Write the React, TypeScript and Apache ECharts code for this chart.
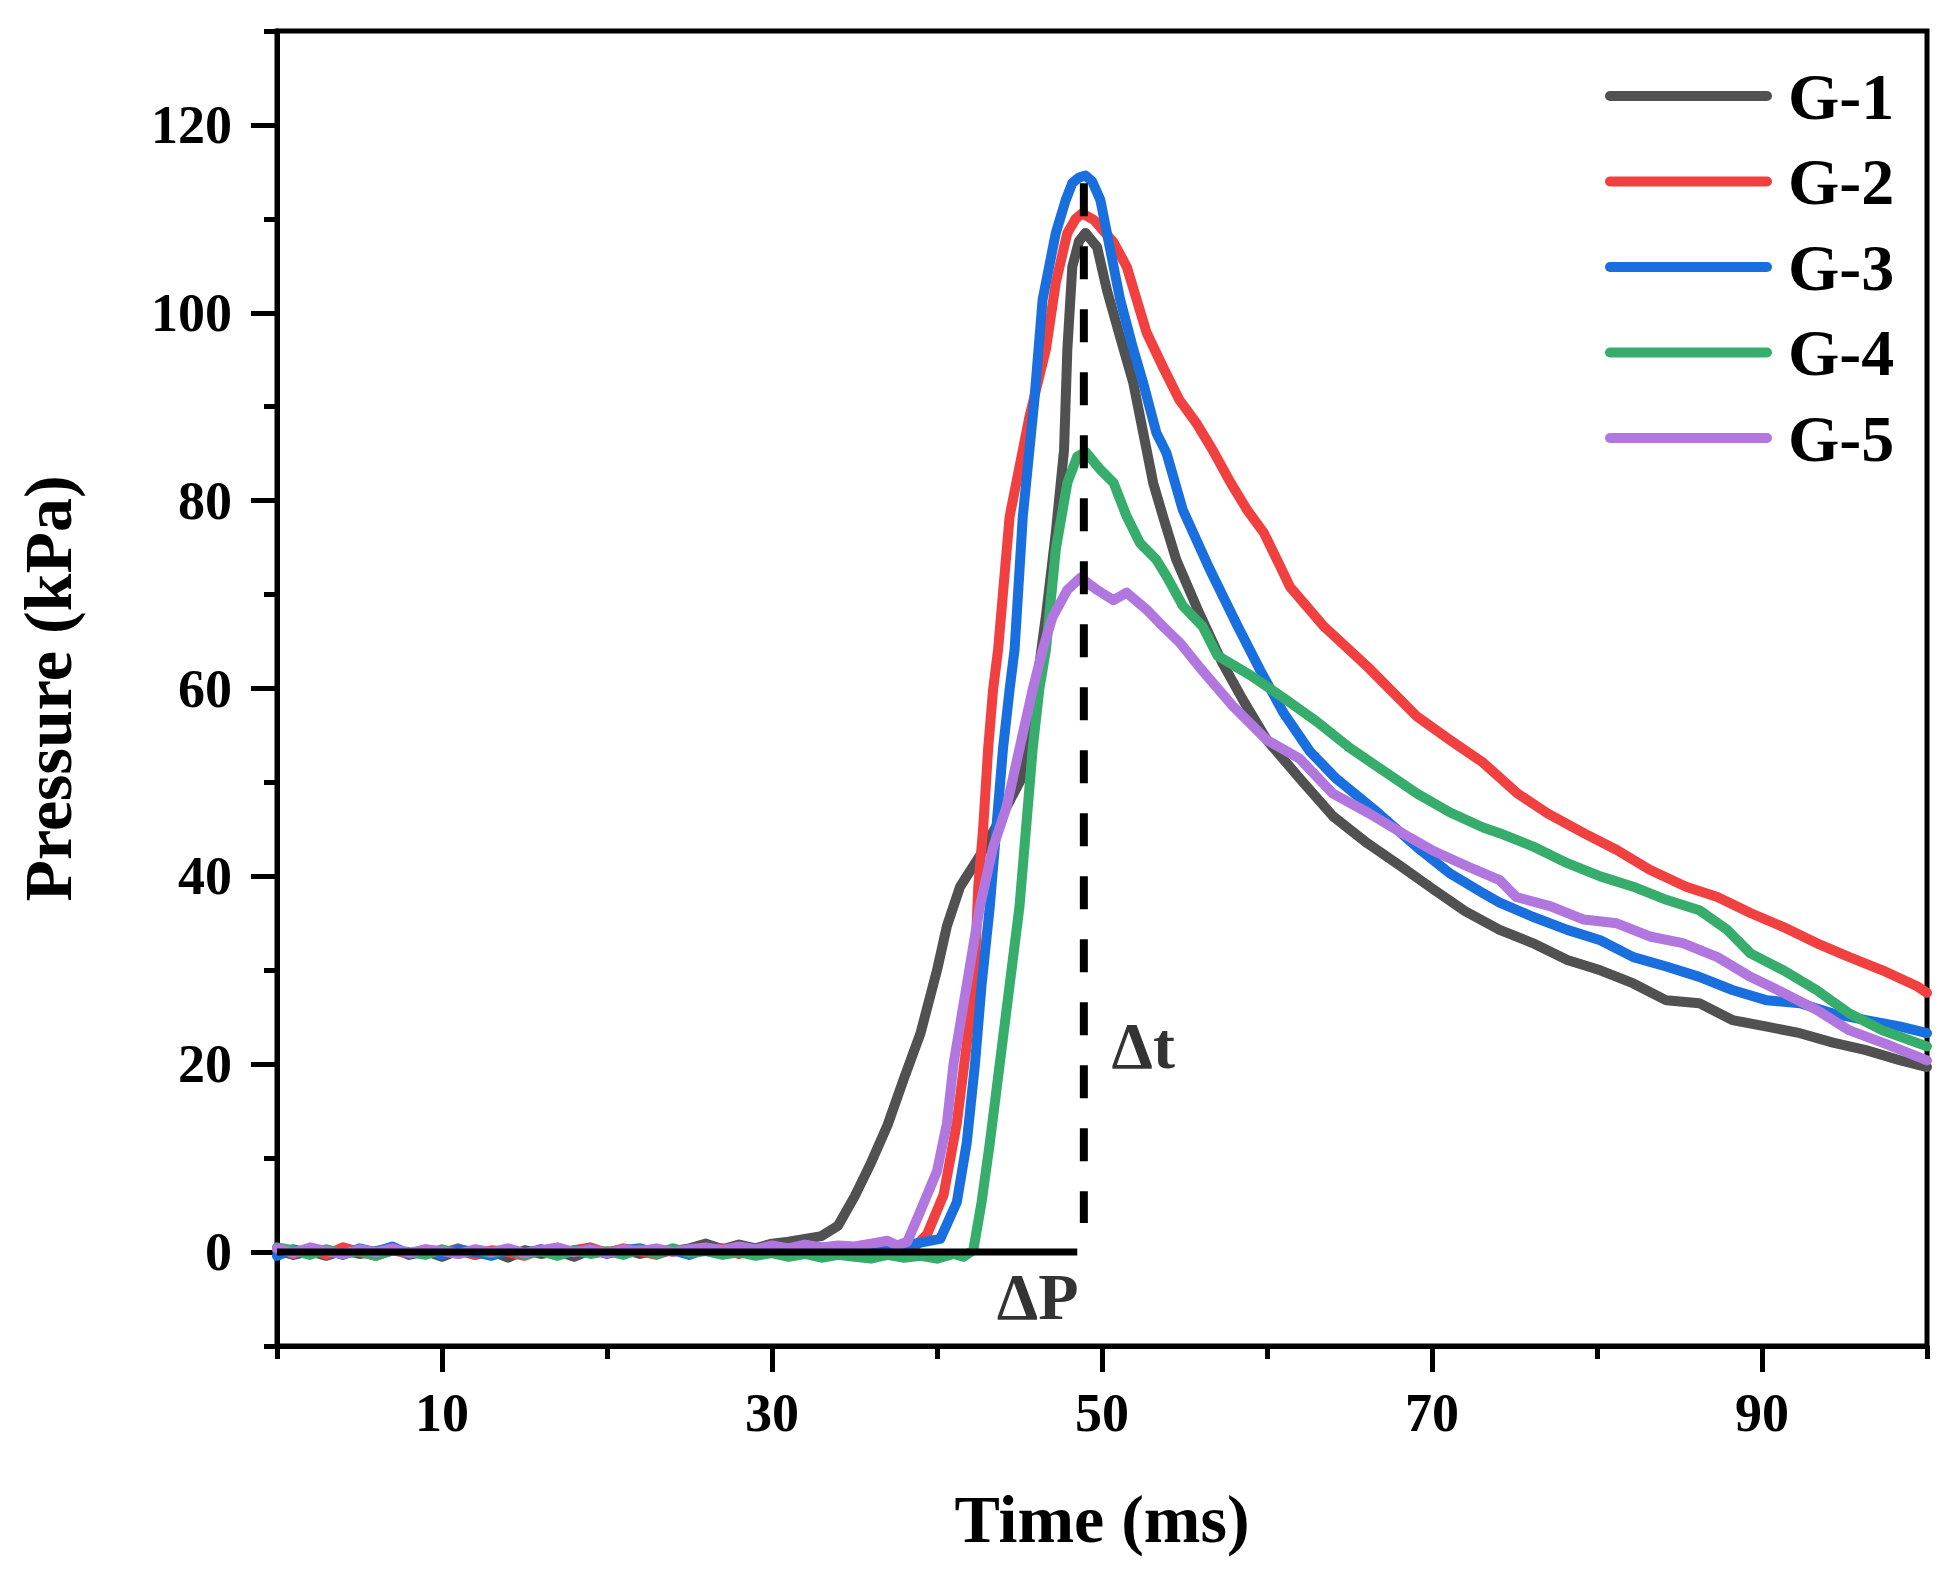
import React, { useEffect, useRef } from "react";
import * as echarts from "echarts";

const seriesNames = ["G-1", "G-2", "G-3", "G-4", "G-5"];
const seriesColors = ["#515151", "#F14040", "#1A6FDF", "#37AD6B", "#B177DE"];

// [time (ms), pressure (kPa)]
const g1 = [
  [0, 0.2], [1, -0.3], [2, 0.1], [3, -0.4], [4, 0.2], [5, -0.2], [6, 0.1], [7, 0.5], [8, -0.3], [9, 0.1],
  [10, -0.5], [11, 0.2], [12, -0.3], [13, 0.1], [14, -0.6], [15, 0.2], [16, -0.2], [17, 0.1], [18, -0.5], [19, 0.2],
  [20, 0.0], [21, 0.3], [22, -0.2], [23, 0.2], [24, 0.1], [25, 0.4], [26, 0.9], [27, 0.3], [28, 0.8], [29, 0.4],
  [30, 0.9], [31, 1.1], [32, 1.4], [33, 1.7], [34, 2.8], [35, 5.9], [36, 9.5], [37, 13.5], [38, 18.5], [39, 23.3],
  [40, 30.0], [40.6, 34.7], [41.4, 38.9], [42.6, 42.2], [43.8, 46.0], [45.2, 50.7], [46.0, 59.9], [46.6, 67.7],
  [47.2, 76.6], [47.7, 85.4], [47.9, 96.1], [48.2, 104.9], [48.6, 107.6], [49.0, 108.5], [49.7, 107.0], [50.3, 102.4],
  [51.1, 97.4], [51.9, 92.5], [52.5, 87.2], [53.1, 81.9], [53.7, 78.3], [54.5, 73.7], [55.9, 68.0], [57.3, 62.7],
  [58.6, 58.6], [60.0, 54.5], [62.0, 50.4], [64.0, 46.4], [66.1, 43.5], [68.1, 41.1], [70.1, 38.6], [72.0, 36.3],
  [74.1, 34.3], [76.1, 32.9], [78.2, 31.1], [80.2, 30.0], [82.2, 28.6], [84.2, 26.8], [86.2, 26.5], [88.2, 24.7],
  [90.3, 24.0], [92.3, 23.3], [94.3, 22.3], [96.3, 21.5], [98.4, 20.4], [100, 19.7],
];

const g2 = [
  [0, 0.3], [1, -0.2], [2, 0.4], [3, -0.3], [4, 0.5], [5, 0.0], [6, -0.4], [7, 0.2], [8, -0.2], [9, 0.3],
  [10, -0.1], [11, 0.4], [12, -0.3], [13, 0.2], [14, 0.0], [15, -0.4], [16, 0.3], [17, -0.2], [18, 0.2], [19, 0.5],
  [20, -0.1], [21, 0.4], [22, 0.1], [23, -0.3], [24, 0.3], [25, -0.1], [26, 0.2], [27, 0.4], [28, -0.2], [29, 0.3],
  [30, 0.1], [31, -0.3], [32, 0.2], [33, 0.4], [34, -0.1], [35, 0.3], [36, 0.2], [37, 0.5], [38, 0.3], [38.8, 0.8],
  [39.4, 1.9], [40.4, 6.1], [41.2, 13.7], [41.8, 22.1], [42.3, 30.5], [42.5, 38.9], [42.8, 45.2], [43.1, 53.6],
  [43.4, 59.9], [43.7, 64.1], [44.4, 78.3], [45.0, 83.6], [45.6, 88.9], [46.6, 96.1], [47.2, 103.2], [47.9, 108.5],
  [48.4, 110.0], [48.8, 110.6], [49.5, 109.9], [50.7, 107.5], [51.5, 104.9], [52.1, 101.4], [52.7, 97.9], [53.7, 94.2], [54.7, 90.7],
  [55.7, 88.3], [56.7, 85.4], [57.8, 81.9], [58.8, 79.0], [59.8, 76.6], [60.8, 73.0], [61.4, 70.8], [63.4, 66.7],
  [66.1, 62.3], [69.1, 57.0], [71.1, 54.5], [73.1, 52.1], [75.2, 48.8], [77.0, 46.7], [79.2, 44.6], [81.2, 42.8],
  [83.2, 40.7], [85.4, 38.9], [87.3, 37.8], [89.3, 36.1], [91.3, 34.6], [93.3, 32.9], [95.3, 31.4], [97.3, 30.0],
  [99.4, 28.3], [100, 27.6],
];

const g3 = [
  [0, -0.4], [1, 0.3], [2, -0.1], [3, 0.2], [4, -0.3], [5, 0.4], [6, 0.0], [7, 0.6], [8, -0.2], [9, 0.2],
  [10, -0.3], [11, 0.3], [12, 0.0], [13, -0.4], [14, 0.2], [15, -0.1], [16, 0.3], [17, -0.3], [18, 0.1], [19, 0.3],
  [20, -0.2], [21, 0.2], [22, 0.4], [23, -0.1], [24, 0.2], [25, -0.3], [26, 0.3], [27, 0.1], [28, 0.4], [29, 0.0],
  [30, 0.3], [31, -0.1], [32, 0.2], [33, 0.5], [34, 0.3], [35, 0.4], [36, 0.6], [37, 0.8], [38, 0.7], [39, 1.0],
  [40.2, 1.4], [41.2, 5.3], [41.8, 11.6], [42.3, 20.0], [42.7, 28.4], [43.2, 36.8], [43.6, 45.2], [44.0, 53.6],
  [44.4, 59.9], [44.7, 64.1], [45.2, 78.3], [45.9, 90.7], [46.4, 101.4], [47.2, 108.5], [47.8, 112.0], [48.2, 113.8],
  [48.6, 114.4], [49.0, 114.6], [49.4, 114.0], [49.9, 112.0], [50.5, 106.7], [51.1, 101.4], [51.9, 96.1], [52.5, 92.5],
  [53.3, 87.2], [53.9, 85.1], [54.9, 79.0],
  [56.5, 72.8], [58.2, 66.7], [59.6, 61.9], [61.0, 57.4], [62.6, 53.3], [64.2, 50.4], [66.7, 46.8], [69.1, 43.1],
  [71.1, 40.3], [73.1, 38.2], [74.1, 37.2], [76.1, 35.7], [78.2, 34.3], [80.2, 33.2], [82.2, 31.4], [84.2, 30.4],
  [86.2, 29.3], [88.2, 27.9], [90.3, 26.8], [92.3, 26.5], [94.3, 25.4], [96.3, 24.7], [98.4, 24.0], [100, 23.3],
];

const g4 = [
  [0, 0.5], [1, 0.2], [2, -0.3], [3, 0.3], [4, -0.2], [5, 0.1], [6, -0.4], [7, 0.2], [8, 0.0], [9, -0.3],
  [10, 0.3], [11, -0.2], [12, 0.2], [13, -0.1], [14, 0.3], [15, -0.3], [16, 0.1], [17, -0.4], [18, 0.2], [19, -0.2],
  [20, 0.1], [21, -0.3], [22, 0.3], [23, -0.2], [24, 0.4], [25, -0.1], [26, 0.1], [27, -0.3], [28, 0.0], [29, -0.4],
  [30, -0.1], [31, -0.5], [32, -0.2], [33, -0.6], [34, -0.3], [35, -0.5], [36, -0.7], [37, -0.3], [38, -0.6], [39, -0.4],
  [40, -0.7], [41, -0.2], [41.6, -0.5], [42.2, 0.2], [42.7, 5.3], [43.2, 11.6], [43.8, 20.0], [44.4, 28.4],
  [45.0, 36.8], [45.4, 45.2], [45.8, 53.6], [46.2, 59.9], [46.6, 64.1], [47.2, 74.8], [47.9, 81.9], [48.5, 84.7],
  [49.0, 85.2], [49.9, 83.3], [50.7, 81.9], [51.5, 78.3], [52.3, 75.5], [53.3, 73.7], [53.9, 72.0], [54.9, 68.8],
  [56.1, 66.6], [57.0, 63.5], [59.0, 61.4], [61.0, 59.0], [63.0, 56.5], [65.0, 53.7], [67.0, 51.3], [69.1, 48.8],
  [71.1, 46.8], [73.1, 45.2], [74.1, 44.6], [76.1, 43.2], [78.2, 41.4], [80.2, 40.0], [82.2, 38.9], [84.2, 37.5],
  [86.2, 36.4], [87.9, 34.3], [89.3, 31.8], [91.3, 30.0], [93.3, 27.9], [95.3, 25.4], [97.3, 23.6], [100, 21.9],
];

const g5 = [
  [0, 0.4], [1, -0.1], [2, 0.5], [3, 0.1], [4, -0.2], [5, 0.3], [6, 0.0], [7, 0.4], [8, -0.1], [9, 0.3],
  [10, 0.1], [11, -0.2], [12, 0.3], [13, 0.0], [14, 0.4], [15, -0.1], [16, 0.2], [17, 0.5], [18, 0.0], [19, 0.3],
  [20, -0.1], [21, 0.3], [22, 0.1], [23, 0.4], [24, 0.0], [25, 0.3], [26, 0.5], [27, 0.2], [28, 0.6], [29, 0.3],
  [30, 0.7], [31, 0.4], [32, 0.8], [33, 0.5], [34, 0.7], [35, 0.6], [36, 0.9], [37, 1.2], [37.6, 0.7], [38.2, 1.1],
  [39.0, 4.4], [40.0, 8.6], [40.6, 13.7], [41.0, 20.0], [41.4, 24.2], [42.0, 30.5], [42.6, 36.8], [43.4, 43.1],
  [44.2, 47.3], [45.0, 53.6], [45.8, 59.9], [46.4, 64.1], [47.0, 67.6], [47.9, 70.5], [48.7, 71.8], [49.7, 70.5],
  [50.7, 69.4], [51.5, 70.2], [52.7, 68.4], [53.7, 66.6], [54.7, 64.9], [55.9, 62.3], [57.9, 58.2], [60.0, 54.5],
  [62.0, 52.5], [64.0, 48.8], [66.1, 46.8], [68.1, 44.7], [70.1, 42.7], [72.1, 41.1], [74.1, 39.6], [75.1, 37.8],
  [77.2, 36.8], [79.2, 35.4], [81.2, 35.0], [83.2, 33.6], [85.2, 32.9], [87.3, 31.4], [89.3, 29.3], [91.3, 27.6],
  [93.3, 25.8], [95.3, 23.6], [97.3, 22.3], [100, 20.4],
];

const seriesData = [g1, g2, g3, g4, g5];

// annotation lines and labels
const deltaPLine = [[0, 0], [48.5, 0]];
const deltaTLine = [[48.9, 113.8], [48.9, 3.1]];
const annotations = [
  { name: "\u0394P", value: [46.1, -4.7] },
  { name: "\u0394t", value: [52.5, 22.0] },
];

const xMajorTicks = [10, 30, 50, 70, 90];
const xMinorTicks = [0, 20, 40, 60, 80, 100];
const yMajorTicks = [0, 20, 40, 60, 80, 100, 120];
const yMinorTicks = [-10, 10, 30, 50, 70, 90, 110, 130];

const FONT = "Liberation Serif";

export default function App() {
  const ref = useRef<HTMLDivElement>(null);

  useEffect(() => {
    document.body.style.margin = "0";
    if (!ref.current) return;
    const chart = echarts.init(ref.current, null, { renderer: "svg" });

    const labelStyle = {
      fontFamily: FONT,
      fontWeight: "bold" as const,
      fontSize: 54,
      color: "#000",
    };

    const lineSeries = seriesNames.map((name, i) => ({
      name,
      type: "line",
      xAxisIndex: 0,
      yAxisIndex: 0,
      data: seriesData[i],
      symbol: "none",
      showSymbol: false,
      lineStyle: { color: seriesColors[i], width: 10, join: "round", cap: "round" },
      itemStyle: { color: seriesColors[i] },
      z: 2 + i * 0.01,
    }));

    const option: any = {
      animation: false,
      backgroundColor: "#fff",
      grid: {
        left: 277,
        right: 24,
        top: 31,
        bottom: 223,
        show: true,
        borderColor: "#000",
        borderWidth: 5,
        backgroundColor: "transparent",
        containLabel: false,
        outerBoundsMode: "none",
      },
      legend: {
        data: seriesNames,
        orient: "vertical",
        left: 1600,
        top: 58,
        itemWidth: 167,
        itemHeight: 10,
        itemGap: 19.5,
        icon: "path://M5,0 L162,0 A5,5 0 0 1 162,10 L5,10 A5,5 0 0 1 5,0 Z",
        textStyle: {
          fontFamily: FONT,
          fontWeight: "bold",
          fontSize: 66,
          lineHeight: 66,
          color: "#000",
          padding: [0, 0, 0, 11],
        },
        selectedMode: false,
      },
      xAxis: [
        {
          type: "value",
          min: 0,
          max: 100,
          interval: 10,
          position: "bottom",
          name: "Time (ms)",
          nameLocation: "middle",
          nameGap: 139,
          nameTextStyle: { fontFamily: FONT, fontWeight: "bold", fontSize: 68, color: "#000" },
          axisLine: { show: true, onZero: false, lineStyle: { color: "#000", width: 5 } },
          axisTick: {
            show: true,
            inside: false,
            length: 26,
            customValues: xMajorTicks,
            lineStyle: { color: "#000", width: 5 },
          },
          axisLabel: { ...labelStyle, margin: 40, customValues: xMajorTicks },
          splitLine: { show: false },
        },
        {
          type: "value",
          min: 0,
          max: 100,
          interval: 10,
          position: "bottom",
          offset: 0,
          axisLine: { show: false, onZero: false },
          axisTick: {
            show: true,
            inside: false,
            length: 13,
            customValues: xMinorTicks,
            lineStyle: { color: "#000", width: 5 },
          },
          axisLabel: { show: false },
          splitLine: { show: false },
        },
      ],
      yAxis: [
        {
          type: "value",
          min: -10,
          max: 130,
          interval: 10,
          position: "left",
          name: "Pressure (kPa)",
          nameLocation: "middle",
          nameGap: 195,
          nameTextStyle: { fontFamily: FONT, fontWeight: "bold", fontSize: 68, color: "#000" },
          axisLine: { show: true, onZero: false, lineStyle: { color: "#000", width: 5 } },
          axisTick: {
            show: true,
            inside: false,
            length: 26,
            customValues: yMajorTicks,
            lineStyle: { color: "#000", width: 5 },
          },
          axisLabel: { ...labelStyle, margin: 45, customValues: yMajorTicks },
          splitLine: { show: false },
        },
        {
          type: "value",
          min: -10,
          max: 130,
          interval: 10,
          position: "left",
          offset: 0,
          axisLine: { show: false, onZero: false },
          axisTick: {
            show: true,
            inside: false,
            length: 13,
            customValues: yMinorTicks,
            lineStyle: { color: "#000", width: 5 },
          },
          axisLabel: { show: false },
          splitLine: { show: false },
        },
      ],
      series: [
        ...lineSeries,
        {
          name: "deltaP",
          type: "line",
          data: deltaPLine,
          symbol: "none",
          lineStyle: { color: "#000", width: 7, cap: "butt" },
          silent: true,
          z: 3,
        },
        {
          name: "deltaT",
          type: "line",
          data: deltaTLine,
          symbol: "none",
          lineStyle: { color: "#000", width: 8, type: [33, 30], cap: "butt" },
          silent: true,
          z: 3,
        },
        {
          name: "annot",
          type: "scatter",
          data: annotations,
          symbolSize: 0,
          silent: true,
          z: 4,
          label: {
            show: true,
            position: "inside",
            formatter: "{b}",
            fontFamily: FONT,
            fontWeight: "bold",
            fontSize: 66,
            color: "#000",
          },
        },
      ],
    };

    chart.setOption(option);
    return () => {
      chart.dispose();
    };
  }, []);

  return <div ref={ref} style={{ width: 1951, height: 1569 }} />;
}
